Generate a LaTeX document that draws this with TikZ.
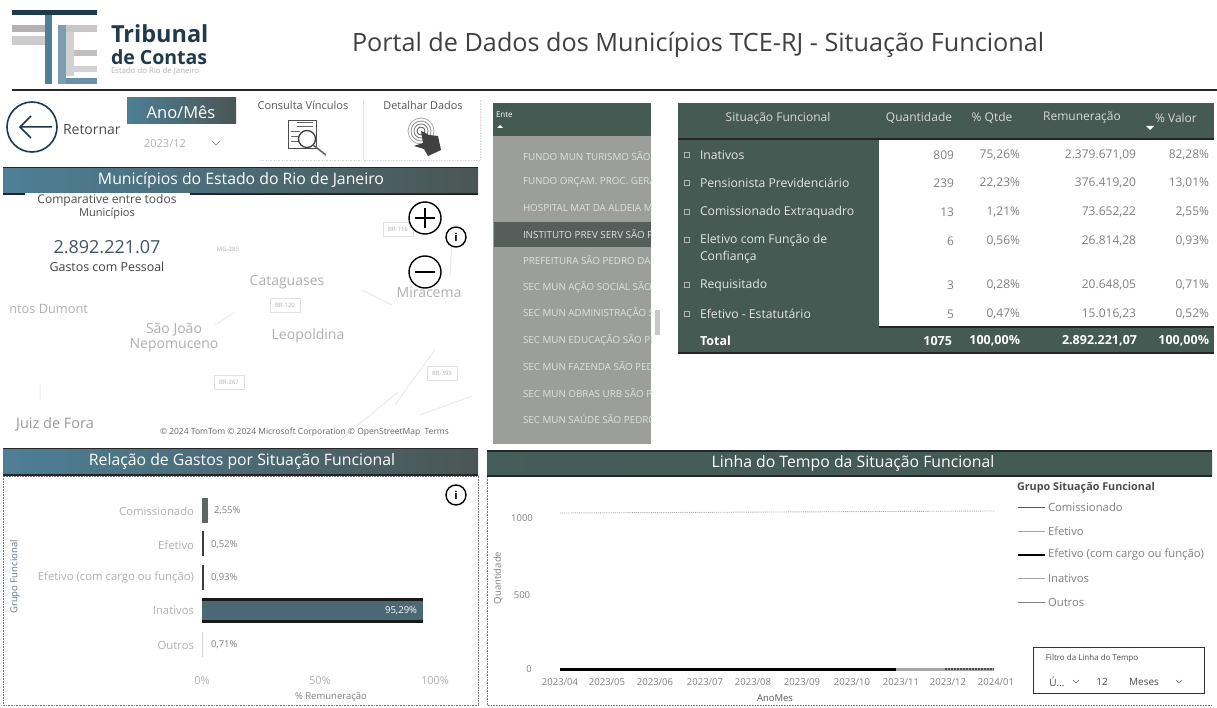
\documentclass[tikz,border=0pt]{standalone}
\usepackage{fontspec}
\setmainfont{Open Sans}
\usetikzlibrary{calc}
\definecolor{barL}{HTML}{4D7F96}
\definecolor{barR}{HTML}{4A5654}
\definecolor{tbl}{HTML}{445A52}
\definecolor{navy}{HTML}{1F3A4D}
\definecolor{teal}{HTML}{4F7F97}
\definecolor{soft}{HTML}{B0B0B0}
\definecolor{mid}{HTML}{808080}
\definecolor{dk}{HTML}{3A3F3E}
\definecolor{panel}{HTML}{9C9E9C}
\definecolor{sel}{HTML}{565E5B}
\newcommand{\fz}[1]{\fontsize{#1}{#1}\selectfont}
\tikzset{
  x=1pt,y=-1pt,
  every node/.style={inner sep=0pt,outer sep=0pt},
  headbar/.style={left color=barL,right color=barR,draw=none},
  headtxt/.style={text=white,font=\fz{15.8}},
  mapt/.style={text=soft,font=\fz{14}},
  road/.style={draw=black!12,line width=.5pt,text=soft,font=\fz{6},inner sep=2pt,minimum width=30pt,minimum height=14pt},
  ring/.style={draw=black,line width=1.4pt,fill=white},
  rowt/.style={text=white!88!black,font=\fz{9.8},anchor=west},
  tdh/.style={text=white!85!black,font=\fz{12}},
  tdl/.style={text=white!90!black,font=\fz{12.2},anchor=west,align=left},
  tdv/.style={text=mid,font=\fz{12},anchor=east},
  tdt/.style={text=white,font=\bfseries\fz{12.5},anchor=east},
  axl/.style={text=soft,font=\fz{11}},
  axr/.style={text=soft,font=\fz{11.3},anchor=east},
  val/.style={text=mid,font=\fz{9.5},anchor=west},
  frame/.style={draw=black!55,line width=.6pt,densely dotted},
  lgd/.style={text=mid,font=\fz{11.3},anchor=west},
  tick/.style={text=mid,font=\fz{9.5}},
}
\begin{document}
\begin{tikzpicture}
\useasboundingbox (0,0) rectangle (1217,708);
\fill[white] (0,0) rectangle (1217,708);
% logo
\fill[navy] (12,10) rectangle (97,15);
\fill[teal] (45,15) rectangle (52,84);
\fill[black!30] (12,25) rectangle (45,32);
\fill[black!20] (12,36) rectangle (45,45);
\fill[teal!75] (58,25) rectangle (66,84);
\fill[black!22] (66,25) rectangle (97,32);
\fill[black!18] (66,32) rectangle (74,76);
\fill[black!25] (74,50) rectangle (97,56);
\fill[black!18] (74,66) rectangle (97,72);
\fill[teal!85] (66,78) rectangle (97,84);
\node[anchor=west,text=navy,font=\bfseries\fz{23.5}] (trib) at (111,34) {Tribunal};
\node[anchor=west,text=navy,font=\bfseries\fz{19.5}] (cont) at (111,57) {de Contas};
\node[anchor=west,text=soft,font=\fz{7.8}] (est) at (111,71) {Estado do Rio de Janeiro};
\node[anchor=west,text=black!75,font=\fz{25.2}] (title) at (352,45) {Portal de Dados dos Municípios TCE-RJ - Situação Funcional};
\draw[black!85,line width=2pt] (12,90) -- (1217,90);
% back
\node[circle,draw=navy,line width=1.6pt,minimum size=50pt] (back) at (32,127) {};
\draw[navy,line width=1.5pt] (52,127) -- (20,127) (31,116) -- (20,127) -- (31,138);
\node[anchor=west,text=black!70,font=\fz{14}] (ret) at (63,130) {Retornar};
\node[headbar,minimum width=109pt,minimum height=26pt] (ano) at (181.5,111) {};
\node[text=white,font=\fz{16.5}] (anot) at (181,112) {Ano/Mês};
\node[text=soft,font=\fz{11}] (anov) at (165,144) {2023/12};
\draw[mid,line width=.6pt] (212,141) -- (216,145) -- (220,141);
\node[text=black!65,font=\fz{11}] (cv) at (303,105) {Consulta Vínculos};
\node[text=black!65,font=\fz{10.9}] (dd) at (423,105) {Detalhar Dados};
% consulta icon
\draw[black!70,line width=.8pt] (288,120) rectangle (316,148);
\draw[black!60,line width=1pt] (297,123) -- (313,123) (297,127) -- (313,127) (291,132) -- (300,132) (291,137) -- (299,137) (291,142) -- (299,142);
\draw[black!75,line width=1.3pt,fill=white] (307,139) circle (8.5);
\draw[black!60,line width=1.6pt] (313,145) -- (326,155);
% detalhar icon
\foreach \r/\g in {4/70,7/55,10/45,13/35} \draw[black!\g,line width=.8pt] (421,131) circle (\r);
\fill[black!75] (421,131) -- (429,135) -- (438,136) -- (441,150) -- (428,156) -- (424,149) -- (414,146) -- (423,143) -- cycle;
\draw[black!15,densely dotted,line width=.6pt] (363,100) -- (363,160) -- (480,160) -- (480,100) (260,160) -- (360,160);
% municipios
\fill[black!85] (3,167) rectangle (478,169);
\node[headbar,minimum width=475pt,minimum height=25pt] (mun) at (240.5,181.5) {};
\node[headtxt] (munt) at (241,180) {Municípios do Estado do Rio de Janeiro};
\fill[black!85] (3,193) rectangle (478,195);
\fill[white] (25,193) rectangle (190,196);
\node[text=black!70,font=\fz{12}] (c1) at (107,200) {Comparative entre todos};
\node[text=black!70,font=\fz{11}] (c2) at (107,214) {Municípios};
\node[text=navy!85,font=\fz{18}] (c3) at (107,247) {2.892.221.07};
\node[text=black!75,font=\fz{12.4}] (c4) at (107,267) {Gastos com Pessoal};
% map
\draw[black!8,line width=1pt] (215,325) -- (235,312) (362,290) -- (392,305) (452,240) -- (450,275) (395,405) -- (420,370) -- (435,350) (340,440) -- (398,392) (420,415) -- (472,396) (40,385) -- (40,400);
\node[road,draw=none] (r1) at (228,249) {MG-285};
\node[road] (r2) at (398,229) {BR-116};
\node[mapt] (m1) at (287,282) {Cataguases};
\node[road] (r3) at (285,305) {BR-120};
\node[mapt] (m2) at (429,292) {Miracema};
\node[mapt,anchor=east,font=\fz{12.8}] (m3) at (88,309) {ntos Dumont};
\node[mapt] (m4) at (174,330) {São João};
\node[mapt] (m5) at (174,345) {Nepomuceno};
\node[mapt] (m6) at (308,336) {Leopoldina};
\node[road] (r4) at (229,382) {BR-267};
\node[road] (r5) at (442,373) {BR-393};
\node[text=black!40,font=\fz{14.5}] (m7) at (55,424) {Juiz de Fora};
\node[anchor=west,text=black!60,font=\fz{8.5}] (attr) at (160,432) {© 2024 TomTom © 2024 Microsoft Corporation © OpenStreetMap \ Terms};
\node[ring,circle,minimum size=32pt] (plus) at (425,218) {};
\draw[black,line width=1.2pt] (415,218) -- (435,218) (425,208) -- (425,228);
\node[ring,circle,minimum size=32pt] (minus) at (425,272) {};
\draw[black,line width=1.2pt] (415,272) -- (435,272);
\node[ring,circle,minimum size=20pt] (inf1) at (456,237) {};
\node[font=\bfseries\fz{11}] (inf1t) at (456,237) {i};
% ente
\fill[panel] (493,136) rectangle (651,444);
\fill[tbl] (493,103) rectangle (651,136);
\node[anchor=west,text=white,font=\fz{8}] (ente) at (496,115) {Ente};
\fill[white] (497,128) -- (500,125) -- (503,128) -- cycle;
\fill[sel] (494,222) rectangle (651,247);
\begin{scope}
\clip (493,136) rectangle (651,444);
\node[rowt] (e1) at (523,156) {FUNDO MUN TURISMO SÃO PEDRO};
\node[rowt] (e2) at (523,182) {FUNDO ORÇAM. PROC. GERAL};
\node[rowt] (e3) at (523,208) {HOSPITAL MAT DA ALDEIA MUNICIPAL};
\node[rowt] (e4) at (523,234) {INSTITUTO PREV SERV SÃO PEDRO};
\node[rowt] (e5) at (523,260) {PREFEITURA SÃO PEDRO DA ALDEIA};
\node[rowt] (e6) at (523,287) {SEC MUN AÇÃO SOCIAL SÃO PEDRO};
\node[rowt] (e7) at (523,313) {SEC MUN ADMINISTRAÇÃO SÃO PEDRO};
\node[rowt] (e8) at (523,340) {SEC MUN EDUCAÇÃO SÃO PEDRO};
\node[rowt] (e9) at (523,366) {SEC MUN FAZENDA SÃO PEDRO};
\node[rowt] (e10) at (523,393) {SEC MUN OBRAS URB SÃO PEDRO};
\node[rowt] (e11) at (523,419) {SEC MUN SAÚDE SÃO PEDRO};
\end{scope}
\fill[black!22] (655,310) rectangle (660,335);
% table
\fill[tbl] (678,103) rectangle (1214,353);
\fill[white] (879,139) rectangle (1214,326);
\fill[black!85] (678,138) rectangle (1214,140);
\fill[black!85] (678,352) rectangle (1214,354);
\fill[black!85] (879,326) rectangle (1214,328);
\node[tdh] (h1) at (778,118) {Situação Funcional};
\node[tdh] (h2) at (919,118) {Quantidade};
\node[tdh] (h3) at (992,118) {\% Qtde};
\node[tdh] (h4) at (1082,118) {Remuneração};
\node[tdh] (h5) at (1176,118) {\% Valor};
\fill[white] (1146,126) -- (1154,126) -- (1150,130) -- cycle;
\foreach \y in {155,183,212,240,285,314} \draw[white!70!black,line width=.6pt] (684,\y-2.5) rectangle (689,\y+2.5);
\node[tdl] (l1) at (700,155) {Inativos};
\node[tdl] (l2) at (700,183) {Pensionista Previdenciário};
\node[tdl] (l3) at (700,212) {Comissionado Extraquadro};
\node[tdl] (l4) at (700,240) {Eletivo com Função de};
\node[tdl] (l4b) at (700,257) {Confiança};
\node[tdl] (l5) at (700,285) {Requisitado};
\node[tdl] (l6) at (700,314) {Efetivo - Estatutário};
\node[tdt,anchor=west] (l7) at (700,341) {Total};
\node[tdv] (a1) at (954,155) {809}; \node[tdv] (b1) at (1020,155) {75,26\%}; \node[tdv] (c1v) at (1136,155) {2.379.671,09}; \node[tdv] (d1) at (1209,155) {82,28\%};
\node[tdv] (a2) at (954,183) {239}; \node[tdv] (b2) at (1020,183) {22,23\%}; \node[tdv] (c2v) at (1136,183) {376.419,20}; \node[tdv] (d2) at (1209,183) {13,01\%};
\node[tdv] (a3) at (954,212) {13}; \node[tdv] (b3) at (1020,212) {1,21\%}; \node[tdv] (c3v) at (1136,212) {73.652,22}; \node[tdv] (d3) at (1209,212) {2,55\%};
\node[tdv] (a4) at (954,241) {6}; \node[tdv] (b4) at (1020,241) {0,56\%}; \node[tdv] (c4v) at (1136,241) {26.814,28}; \node[tdv] (d4) at (1209,241) {0,93\%};
\node[tdv] (a5) at (954,285) {3}; \node[tdv] (b5) at (1020,285) {0,28\%}; \node[tdv] (c5v) at (1136,285) {20.648,05}; \node[tdv] (d5) at (1209,285) {0,71\%};
\node[tdv] (a6) at (954,314) {5}; \node[tdv] (b6) at (1020,314) {0,47\%}; \node[tdv] (c6v) at (1136,314) {15.016,23}; \node[tdv] (d6) at (1209,314) {0,52\%};
\node[tdt] (t1) at (952,341) {1075}; \node[tdt] (t2) at (1020,341) {100,00\%}; \node[tdt] (t3) at (1137,341) {2.892.221,07}; \node[tdt] (t4) at (1209,341) {100,00\%};
% left chart
\fill[black!85] (3,448) rectangle (478,450);
\node[headbar,minimum width=475pt,minimum height=26pt] (rel) at (240.5,462) {};
\node[headtxt] (relt) at (242,461) {Relação de Gastos por Situação Funcional};
\fill[black!85] (3,474) rectangle (478,476);
\draw[frame] (3,476) rectangle (478,705);
\node[ring,circle,minimum size=20pt] (inf2) at (456,495) {};
\node[font=\bfseries\fz{11}] (inf2t) at (456,495) {i};
\node[rotate=90,text=navy!70,font=\fz{9.5}] (gf) at (15,577) {Grupo Funcional};
\node[axr] (b1l) at (194,511) {Comissionado};
\node[axr] (b2l) at (194,545) {Efetivo};
\node[axr] (b3l) at (194,578) {Efetivo (com cargo ou função)};
\node[axr] (b4l) at (194,610) {Inativos};
\node[axr] (b5l) at (194,645) {Outros};
\fill[barR!90] (202,498) rectangle (208,523);
\fill[dk] (202,531) rectangle (203.5,556);
\fill[dk] (202,565) rectangle (204,590);
\fill[black!90] (202,598) rectangle (423,623);
\fill[barL!45!barR] (202,601) rectangle (423,620);
\fill[black!15] (202,632) rectangle (203,657);
\node[val] (v1) at (214,511) {2,55\%};
\node[val] (v2) at (211,545) {0,52\%};
\node[val] (v3) at (211,578) {0,93\%};
\node[val,anchor=east,text=white] (v4) at (417,611) {95,29\%};
\node[val] (v5) at (211,645) {0,71\%};
\node[axl] (x0) at (202,681) {0\%};
\node[axl] (x1) at (320,681) {50\%};
\node[axl] (x2) at (435,681) {100\%};
\node[text=mid,font=\fz{9.5}] (xt) at (331,697) {\% Remuneração};
% right chart
\fill[black!85] (487,450) rectangle (1212,452);
\node[left color=tbl!90!barL,right color=tbl,minimum width=725pt,minimum height=24pt] (lin) at (849.5,464) {};
\node[headtxt] (lint) at (853,463) {Linha do Tempo da Situação Funcional};
\fill[black!85] (487,475) rectangle (1212,477);
\draw[frame] (487,477) -- (487,705) -- (1212,705);
\node[rotate=90,text=mid,font=\fz{9.5}] (qtd) at (498,578) {Quantidade};
\node[tick] (y1) at (522,518) {1000};
\node[tick] (y2) at (522,595) {500};
\node[tick] (y3) at (529,669) {0};
\draw[black!35,line width=.9pt,densely dotted] (560,513) -- (994,511);
\draw[black,line width=3pt] (560,669) -- (896,669);
\draw[black!35,line width=3pt] (896,669) -- (994,669);
\draw[black!70,line width=2pt,densely dotted] (945,669) -- (994,669);
\node[tick] (t01) at (560,682) {2023/04};
\node[tick] (t02) at (607,682) {2023/05};
\node[tick] (t03) at (655,682) {2023/06};
\node[tick] (t04) at (705,682) {2023/07};
\node[tick] (t05) at (753,682) {2023/08};
\node[tick] (t06) at (802,682) {2023/09};
\node[tick] (t07) at (852,682) {2023/10};
\node[tick] (t08) at (901,682) {2023/11};
\node[tick] (t09) at (948,682) {2023/12};
\node[tick] (t10) at (996,682) {2024/01};
\node[tick,text=black!65] (xlab) at (775,698) {AnoMes};
\node[anchor=west,text=black!70,font=\bfseries\fz{10.8}] (lt) at (1017,488) {Grupo Situação Funcional};
\coordinate (k1) at (1018,507); \coordinate (k2) at (1018,531); \coordinate (k3) at (1018,555); \coordinate (k4) at (1018,578); \coordinate (k5) at (1018,602);
\draw[black!65,line width=.9pt] (k1) -- ++(27,0);
\draw[black!35,line width=.9pt] (k2) -- ++(27,0);
\draw[black,line width=2pt] (k3) -- ++(27,0);
\draw[black!35,line width=.9pt] (k4) -- ++(27,0);
\draw[black!50,line width=.9pt] (k5) -- ++(27,0);
\node[lgd] (g1) at (1048,507) {Comissionado};
\node[lgd] (g2) at (1048,531) {Efetivo};
\node[lgd] (g3) at (1048,555) {Efetivo (com cargo ou função)};
\node[lgd] (g4) at (1048,578) {Inativos};
\node[lgd] (g5) at (1048,602) {Outros};
\draw[black!80,line width=.9pt] (1033,647) rectangle (1204,693);
\node[text=black!70,font=\fz{8}] (fl) at (1092,658) {Filtro da Linha do Tempo};
\node[text=black!70,font=\fz{10}] (f1) at (1057,682) {Ú...};
\draw[black!60,line width=.6pt] (1073,680) -- (1076,683) -- (1079,680);
\node[text=black!70,font=\fz{10}] (f2) at (1102,682) {12};
\node[text=black!70,font=\fz{10}] (f3) at (1144,682) {Meses};
\draw[black!60,line width=.6pt] (1176,680) -- (1179,683) -- (1182,680);
\end{tikzpicture}
\end{document}
